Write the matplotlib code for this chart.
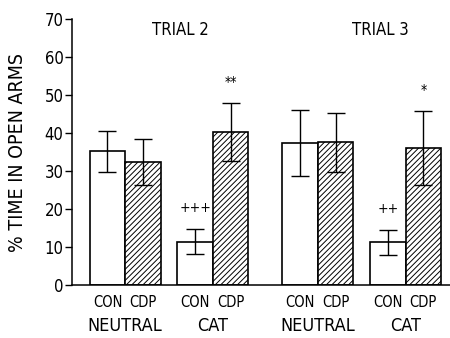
import matplotlib
matplotlib.use("Agg")
from matplotlib import pyplot as plt
from matplotlib import transforms

plt.rcParams['font.family'] = ['DejaVu Sans']
plt.rcParams['font.stretch'] = 'condensed'
plt.rcParams['hatch.linewidth'] = 0.7

# Data
trials = ["TRIAL 2", "TRIAL 3"]
conditions = ["NEUTRAL", "CAT"]
drugs = ["CON", "CDP"]
means = [35.2, 32.3, 11.4, 40.3, 37.3, 37.5, 11.2, 36.0]
errors = [5.4, 6.0, 3.3, 7.7, 8.7, 7.8, 3.2, 9.7]
marks = ["", "", "+++", "**", "", "", "++", "*"]

# bar positions (bar width = 1)
pair_gap = 0.47
trial_gap = 0.96
xs = []
start = 0.5
for t in range(len(trials)):
    for c in range(len(conditions)):
        xs.append(start + 0.5)
        xs.append(start + 1.5)
        start += 2 + (pair_gap if c == 0 else trial_gap)

fig = plt.figure(figsize=(4.5, 3.38), dpi=100)
ax = fig.add_axes([0.16, 0.157, 0.84, 0.787])

for i, (x, m, e) in enumerate(zip(xs, means, errors)):
    if i % 2 == 0:
        ax.bar(x, m, width=1.0, color='white', edgecolor='black',
               linewidth=1.2, zorder=2)
    else:
        ax.bar(x, m, width=1.0, color='white', edgecolor='black',
               hatch='//////', linewidth=1.2, zorder=2)
    ax.errorbar(x, m, yerr=e, fmt='none', ecolor='black', elinewidth=1.0,
                capsize=6.5, capthick=1.0, zorder=3)
    if marks[i]:
        ax.text(x, m + e + 5.5, marks[i], ha='center', va='center',
                fontsize=10)

ax.set_xlim(0.0, 10.65)
ax.set_ylim(0, 70)
ax.set_yticks(range(0, 71, 10))
ax.tick_params(axis='y', direction='out', length=5, width=1, labelsize=12,
               pad=1)
ax.set_xticks(xs)
ax.set_xticklabels(drugs * 4)
ax.tick_params(axis='x', length=0, labelsize=10.5, pad=7)

for s in ['top', 'right']:
    ax.spines[s].set_visible(False)
ax.spines['left'].set_linewidth(1.1)
ax.spines['bottom'].set_linewidth(1.1)

trans = transforms.blended_transform_factory(ax.transData, ax.transAxes)
for j in range(4):
    cx = (xs[2 * j] + xs[2 * j + 1]) / 2
    ax.text(cx, -0.155, conditions[j % 2], transform=trans, ha='center',
            va='center', fontsize=13)

ax.text(3.04, 67, trials[0], ha='center', va='center', fontsize=12)
ax.text(8.68, 67, trials[1], ha='center', va='center', fontsize=12)

fig.text(0.04, 0.55, "% TIME IN OPEN ARMS", rotation=90, ha='center',
         va='center', fontsize=14)

plt.savefig("out.png", dpi=100)
